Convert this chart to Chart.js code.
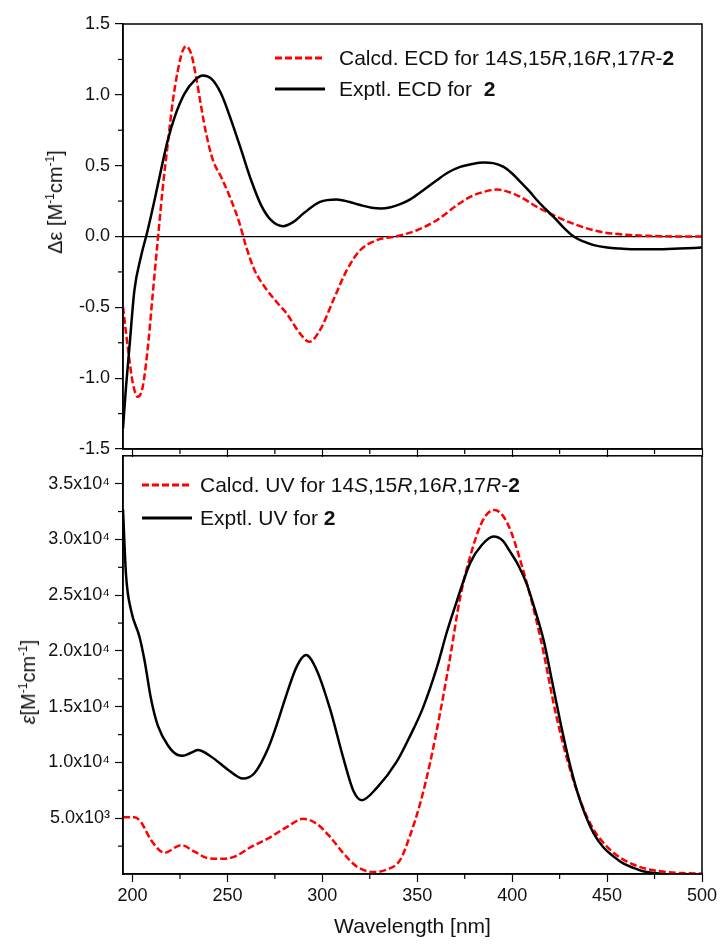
<!DOCTYPE html>
<html lang="en">
<head>
  <meta charset="UTF-8" />
  <title>ECD and UV spectra of 2</title>
  <script src="https://cdn.jsdelivr.net/npm/chart.js"></script>
  <style>
    body { margin: 0; background: #fff; font-family: "Liberation Sans", Arial, sans-serif; color: #111; }
    #wrap { position: relative; width: 721px; height: 944px; }
    canvas { position: absolute; left: 0; }
    #ecdChart { top: 0; }
    #uvChart { top: 440px; }
    .legend { position: absolute; font-size: 21px; }
    .legend div { display: flex; align-items: center; white-space: pre; }
    #ecdLegend { left: 275px; top: 42px; }
    #ecdLegend div { height: 31px; }
    #ecdLegend svg { margin-right: 14px; }
    #uvLegend { left: 142px; top: 468px; }
    #uvLegend div { height: 33px; }
    #uvLegend svg { margin-right: 8px; }
    .ytitle { position: absolute; font-size: 20px; white-space: nowrap; line-height: 1; transform: translate(-50%, -50%) rotate(-90deg); }
    sup { font-size: 0.6em; line-height: 0; vertical-align: 0.65em; }
  </style>
</head>
<body>
  <div id="wrap">
    <canvas id="ecdChart" width="721" height="470"></canvas>
    <canvas id="uvChart" width="721" height="504"></canvas>

    <div class="legend" id="ecdLegend">
      <div><svg width="50" height="6"><line x1="0" y1="3" x2="50" y2="3" stroke="#ff0000" stroke-width="3" stroke-dasharray="7 3"/></svg>Calcd. ECD for 14<i>S</i>,15<i>R</i>,16<i>R</i>,17<i>R</i>-<b>2</b></div>
      <div><svg width="50" height="6"><line x1="0" y1="3" x2="50" y2="3" stroke="#000" stroke-width="3"/></svg>Exptl. ECD for  <b>2</b></div>
    </div>
    <div class="legend" id="uvLegend">
      <div><svg width="50" height="6"><line x1="0" y1="3" x2="50" y2="3" stroke="#ff0000" stroke-width="3" stroke-dasharray="7 3"/></svg>Calcd. UV for 14<i>S</i>,15<i>R</i>,16<i>R</i>,17<i>R</i>-<b>2</b></div>
      <div><svg width="50" height="6"><line x1="0" y1="3" x2="50" y2="3" stroke="#000" stroke-width="3"/></svg>Exptl. UV for <b>2</b></div>
    </div>

    <div class="ytitle" style="left:55px; top:202px;">&Delta;&epsilon; [M<sup>-1</sup>cm<sup>-1</sup>]</div>
    <div class="ytitle" style="left:28px; top:682px;"><i>&epsilon;</i>[M<sup>-1</sup>cm<sup>-1</sup>]</div>
  </div>

  <script>
    // ECD, calculated (14S,15R,16R,17R-2)
    const ecdCalcNm = [195, 197.5, 200.2, 202.8, 205.4, 208.1, 210.7, 213.3, 216, 218.6, 221.3, 223.9, 226.5, 228.3, 230.9, 233.5, 236.2, 238.8, 242.4, 246.7, 252, 256.4, 259.9, 264.3, 269.6, 276.6, 281.2, 288.2, 293.1, 298.8, 305.8, 312.9, 319.9, 328.7, 339.2, 349.8, 360.3, 370.9, 377.9, 383.2, 392, 402.6, 413.1, 421.8, 434.2, 446.5, 460.6, 478.1, 500];
    const ecdCalcVals = [-0.497, -0.78, -1.037, -1.131, -1.06, -0.78, -0.402, -0.026, 0.35, 0.656, 0.961, 1.173, 1.314, 1.342, 1.29, 1.126, 0.914, 0.726, 0.538, 0.42, 0.256, 0.092, -0.073, -0.238, -0.355, -0.473, -0.543, -0.684, -0.743, -0.66, -0.449, -0.238, -0.097, -0.026, 0.002, 0.044, 0.115, 0.221, 0.28, 0.308, 0.331, 0.291, 0.209, 0.15, 0.08, 0.033, 0.012, 0.002, 0];

    // ECD, experimental
    const ecdExpNm = [195, 196.6, 198.4, 201, 204.5, 208, 211.6, 215, 218.6, 222.2, 227.4, 232.7, 237.1, 241.5, 246.7, 252, 257.3, 262.5, 267.8, 273, 279.4, 285, 290, 298.8, 307.6, 314, 320, 326, 331, 336, 341, 346.3, 353, 360.3, 366, 372.6, 379, 385, 390, 395.5, 400, 404.3, 409, 413.1, 417.5, 421.8, 427, 432.4, 437.5, 443, 450, 457, 466, 475, 488, 500];
    const ecdExpVals = [-1.355, -1.06, -0.78, -0.38, -0.14, 0.044, 0.256, 0.468, 0.68, 0.843, 1.008, 1.102, 1.137, 1.114, 1.008, 0.82, 0.609, 0.397, 0.22, 0.115, 0.073, 0.105, 0.162, 0.244, 0.261, 0.245, 0.222, 0.203, 0.198, 0.207, 0.228, 0.262, 0.325, 0.397, 0.45, 0.491, 0.512, 0.522, 0.518, 0.491, 0.445, 0.385, 0.32, 0.256, 0.195, 0.138, 0.065, 0, -0.035, -0.061, -0.078, -0.085, -0.09, -0.09, -0.085, -0.078];

    // UV, calculated
    const uvCalcNm = [195, 201, 204.5, 209.8, 216.9, 225.7, 232.7, 239.7, 246.7, 253.8, 262.5, 271.4, 281.2, 290, 297, 304.1, 311.1, 318.1, 326.9, 333.9, 341, 346.3, 351.5, 356.8, 362.1, 367.4, 372.6, 379.6, 384.9, 390.6, 397.3, 406, 414.8, 423.6, 432.4, 441.2, 451.8, 464.1, 478.1, 500];
    const uvCalcVals = [5085, 5085, 4644, 3032, 1912, 2591, 2000, 1419, 1357, 1560, 2441, 3181, 4204, 4944, 4503, 3322, 1860, 679, 185, 388, 1269, 3500, 6300, 10000, 14500, 19500, 24800, 29471, 31823, 32643, 31524, 27117, 21248, 13902, 8320, 4504, 2150, 828, 238, 30];

    // UV, experimental
    const uvExpNm = [195, 196.6, 199.3, 203.7, 206.3, 209.8, 213.3, 218.6, 223.9, 226.5, 230.5, 234.4, 241.5, 250.3, 258.2, 264.3, 271.4, 276.6, 280, 286.5, 291.4, 297, 304.1, 311.1, 316.4, 320.8, 328.7, 339.2, 346, 353, 360.3, 365.6, 370.9, 377.9, 384, 390.2, 395, 399, 403.5, 407.8, 412, 416.6, 421, 425.4, 430, 434.2, 438.5, 443, 448, 453.5, 458.5, 464.1, 469, 474.6, 480];
    const uvExpVals = [32700, 26800, 23600, 21250, 19190, 15660, 13320, 11550, 10670, 10610, 10850, 11110, 10520, 9350, 8560, 9060, 11260, 13700, 15500, 18600, 19630, 18300, 14780, 10370, 7440, 6620, 7730, 10080, 12300, 14900, 18500, 21700, 24500, 27900, 29500, 30260, 29900, 28880, 27600, 25945, 23700, 20948, 17300, 13607, 10100, 7438, 5300, 3622, 2400, 1560, 950, 538, 250, 97, 0];

    // tick values
    const xTicks = [200, 250, 300, 350, 400, 450, 500];
    const xMinorTicks = [225, 275, 325, 375, 425, 475];
    const ecdTicks = [-1.5, -1.0, -0.5, 0, 0.5, 1.0, 1.5];
    const ecdMinorTicks = [-1.25, -0.75, -0.25, 0.25, 0.75, 1.25];
    const uvTicks = [5000, 10000, 15000, 20000, 25000, 30000, 35000];
    const uvMinorTicks = [2500, 7500, 12500, 17500, 22500, 27500, 32500];

    const RED = '#ff0000';
    const BLACK = '#000000';
    const tickFont = { family: '"Liberation Sans", Arial, sans-serif', size: 18 };
    const SUP = { 3: '\u00b3', 4: '\u2074' };

    function toPoints(xs, ys) {
      return xs.map((x, i) => ({ x: x, y: ys[i] }));
    }

    function lineSet(label, xs, ys, color, dashed) {
      return {
        label: label,
        data: toPoints(xs, ys),
        borderColor: color,
        borderWidth: 2.5,
        borderDash: dashed ? [7, 3] : [],
        pointRadius: 0,
        fill: false,
        cubicInterpolationMode: 'monotone'
      };
    }

    // minor ticks and the top/right frame lines
    const frameAndMinor = {
      id: 'frameAndMinor',
      afterDraw(chart, args, opts) {
        const ctx = chart.ctx;
        const a = chart.chartArea;
        ctx.save();
        ctx.strokeStyle = BLACK;
        ctx.lineWidth = 1.2;
        opts.x.forEach(v => {
          const px = chart.scales.x.getPixelForValue(v);
          ctx.beginPath();
          ctx.moveTo(px, a.bottom);
          ctx.lineTo(px, a.bottom + 5);
          ctx.stroke();
        });
        opts.y.forEach(v => {
          const py = chart.scales.y.getPixelForValue(v);
          ctx.beginPath();
          ctx.moveTo(a.left, py);
          ctx.lineTo(a.left - 5, py);
          ctx.stroke();
        });
        ctx.lineWidth = 1.5;
        ctx.strokeRect(a.left, a.top, a.right - a.left, a.bottom - a.top);
        ctx.restore();
      }
    };

    const common = {
      responsive: false,
      animation: false,
      events: []
    };

    // ECD panel
    new Chart(document.getElementById('ecdChart'), {
      type: 'line',
      data: {
        datasets: [
          lineSet('Exptl. ECD for 2', ecdExpNm, ecdExpVals, BLACK, false),
          lineSet('Calcd. ECD for 14S,15R,16R,17R-2', ecdCalcNm, ecdCalcVals, RED, true)
        ]
      },
      plugins: [frameAndMinor],
      options: Object.assign({}, common, {
        layout: { padding: { top: 24, right: 19, left: 0, bottom: 0 } },
        plugins: {
          legend: { display: false },
          tooltip: { enabled: false },
          frameAndMinor: { x: xMinorTicks, y: ecdMinorTicks }
        },
        scales: {
          x: {
            type: 'linear', min: 195, max: 500,
            afterBuildTicks: s => { s.ticks = xTicks.map(v => ({ value: v })); },
            afterFit: s => { s.height = 21; },
            ticks: { display: false },
            grid: { drawOnChartArea: false, tickLength: 8, tickColor: BLACK, tickWidth: 1.2 },
            border: { color: BLACK, width: 1.5 }
          },
          y: {
            type: 'linear', min: -1.5, max: 1.5,
            afterBuildTicks: s => { s.ticks = ecdTicks.map(v => ({ value: v })); },
            afterFit: s => { s.width = 123; },
            ticks: { color: '#111', font: tickFont, padding: 5, autoSkip: false, callback: v => v.toFixed(1) },
            grid: {
              color: c => (c.tick && c.tick.value === 0 ? BLACK : 'rgba(0,0,0,0)'),
              lineWidth: 1.2, tickLength: 8, tickColor: BLACK, tickWidth: 1.2
            },
            border: { color: BLACK, width: 1.5 }
          }
        }
      })
    });

    // UV panel
    new Chart(document.getElementById('uvChart'), {
      type: 'line',
      data: {
        datasets: [
          lineSet('Exptl. UV for 2', uvExpNm, uvExpVals, BLACK, false),
          lineSet('Calcd. UV for 14S,15R,16R,17R-2', uvCalcNm, uvCalcVals, RED, true)
        ]
      },
      plugins: [frameAndMinor],
      options: Object.assign({}, common, {
        layout: { padding: { top: 9, right: 19, left: 0, bottom: 0 } },
        plugins: {
          legend: { display: false },
          tooltip: { enabled: false },
          frameAndMinor: { x: xMinorTicks, y: uvMinorTicks }
        },
        scales: {
          x: {
            type: 'linear', min: 195, max: 500,
            afterBuildTicks: s => { s.ticks = xTicks.map(v => ({ value: v })); },
            afterFit: s => { s.height = 70; },
            ticks: { color: '#111', font: tickFont, padding: 3, autoSkip: false, maxRotation: 0, callback: v => String(v) },
            grid: { drawOnChartArea: false, tickLength: 8, tickColor: BLACK, tickWidth: 1.2 },
            border: { color: BLACK, width: 1.5 },
            title: {
              display: true, text: 'Wavelength [nm]', color: '#111',
              font: { family: '"Liberation Sans", Arial, sans-serif', size: 21 },
              padding: { top: 0, bottom: 4 }
            }
          },
          y: {
            type: 'linear', min: 0, max: 37500,
            afterBuildTicks: s => { s.ticks = uvTicks.map(v => ({ value: v })); },
            afterFit: s => { s.width = 123; },
            ticks: {
              color: '#111', font: tickFont, padding: 5, autoSkip: false,
              callback: v => {
                const e = v >= 10000 ? 4 : 3;
                return (v / Math.pow(10, e)).toFixed(1) + 'x10' + SUP[e];
              }
            },
            grid: { drawOnChartArea: false, tickLength: 8, tickColor: BLACK, tickWidth: 1.2 },
            border: { color: BLACK, width: 1.5 }
          }
        }
      })
    });
  </script>
</body>
</html>
